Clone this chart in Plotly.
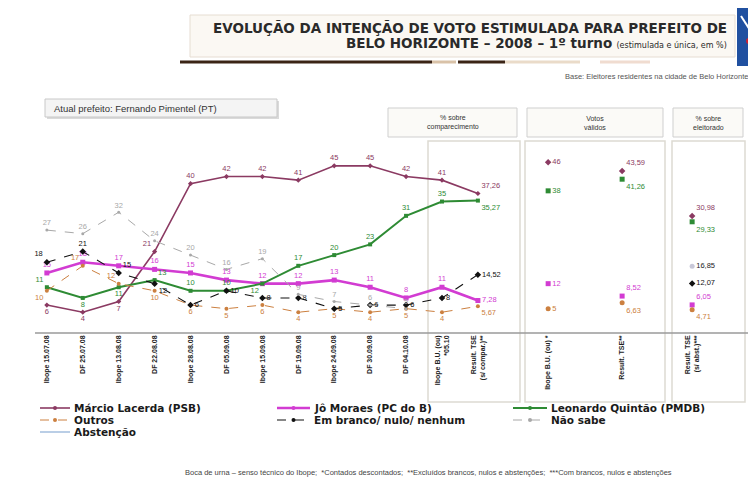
import plotly.graph_objects as go

# ---------------- data ----------------
main_cats = ["Ibope 15.07.08", "DF 25.07.08", "Ibope 13.08.08", "DF 22.08.08",
             "Ibope 28.08.08", "DF 05.09.08", "Ibope 15.09.08", "DF 19.09.08",
             "Ibope 24.09.08", "DF 30.09.08", "DF 04.10.08",
             "Ibope B.U. (ou)<br>*05.10", "Result. TSE<br>(s/ compar.)**"]
lacerda = [6, 4, 7, 21, 40, 42, 42, 41, 45, 45, 42, 41, 37.26]
jo = [15, 18, 17, 16, 15, 13, 12, 12, 13, 11, 8, 11, 7.28]
quintao = [11, 8, 11, 13, 10, 10, 12, 17, 20, 23, 31, 35, 35.27]
outros = [10, 17, 12, 10, 6, 5, 6, 4, 5, 4, 5, 4, 5.67]
branco = [18, 21, 15, 12, 6, 10, 8, 8, 5, 6, 6, 8, 14.52]
naosabe = [27, 26, 32, 24, 20, 16, 19, 9, 7, 6, 5, None, None]

vv_cats = ["Ibope B.U. (ou) *", "Result. TSE**"]
vv_lacerda = [46, 43.59]
vv_quintao = [38, 41.26]
vv_jo = [12, 8.52]
vv_outros = [5, 6.63]

el_cats = ["Result. TSE<br>(s/ abst.)***"]
el_lacerda = [30.98]
el_quintao = [29.33]
el_abst = [16.85]
el_branco = [12.07]
el_jo = [6.05]
el_outros = [4.71]

names = ["Márcio Lacerda (PSB)", "Jô Moraes (PC do B)", "Leonardo Quintão (PMDB)",
         "Outros", "Em branco/ nulo/ nenhum", "Não sabe", "Abstenção"]

# ---------------- styles ----------------
OFF = 8                      # page body margin in the browser
W, H = 756 - OFF, 483 - OFF
C_LAC = "#8B3A62"
C_JO = "#D23CD2"
C_QUI = "#2E8B34"
C_OUT = "#CC8040"
C_BRA = "#111111"
C_NS = "#A8A8A8"
C_ABS = "#A9C2E0"
C_ABS_MK = "#C8C8D8"


def px(x):
    return (x - OFF) / W


def py(y):
    return 1 - (y - OFF) / H


def fmt(v):
    if v is None:
        return ""
    return f"{v:g}".replace(".", ",")


def labels(vals):
    return [fmt(v) for v in vals]


fig = go.Figure()
LBL = dict(size=7.5, family="Liberation Sans")

main_series = [
    (lacerda, C_LAC, 1.6, "solid", "diamond", 4,
     ["bottom center"] * 3 + ["top left"] + ["top center"] * 8 + ["top right"]),
    (jo, C_JO, 2.6, "solid", "square", 5,
     ["top center"] * 12 + ["middle right"]),
    (quintao, C_QUI, 2.0, "solid", "square", 4,
     ["top left", "bottom center", "bottom center", "top right", "top center",
      "top center", "bottom left"] + ["top center"] * 5 + ["bottom right"]),
    (outros, C_OUT, 1.0, "dash", "circle", 4,
     ["bottom left", "top left", "top left"] + ["bottom center"] * 9 + ["bottom right"]),
    (branco, C_BRA, 1.1, "dash", "diamond", 5,
     ["top left", "top center", "top right", "bottom right"] + ["middle right"] * 8
     + ["middle right"]),
    (naosabe, C_NS, 1.0, "dash", "circle", 3,
     ["top center"] * 13),
]
for vals, col, w, dash, sym, ms, tpos in main_series:
    fig.add_trace(go.Scatter(
        x=main_cats, y=vals, mode="lines+markers+text",
        line=dict(color=col, width=w, dash=dash),
        marker=dict(color=col, size=ms, symbol=sym),
        text=labels(vals), textposition=tpos,
        textfont=dict(color=col, **LBL),
        cliponaxis=False, showlegend=False, xaxis="x", yaxis="y"))

for vals, col, sym, pos in [(vv_lacerda, C_LAC, "diamond", ["middle right", "top right"]),
                            (vv_quintao, C_QUI, "square", ["middle right", "bottom right"]),
                            (vv_jo, C_JO, "square", ["middle right", "top right"]),
                            (vv_outros, C_OUT, "circle", ["middle right", "bottom right"])]:
    fig.add_trace(go.Scatter(
        x=vv_cats, y=vals, mode="markers+text",
        marker=dict(color=col, size=5, symbol=sym),
        text=labels(vals), textposition=pos,
        textfont=dict(color=col, **LBL),
        cliponaxis=False, showlegend=False, xaxis="x2", yaxis="y"))

for vals, col, sym, pos in [(el_lacerda, C_LAC, "diamond", "top right"),
                            (el_quintao, C_QUI, "square", "bottom right"),
                            (el_abst, C_ABS_MK, "circle", "middle right"),
                            (el_branco, C_BRA, "diamond", "middle right"),
                            (el_jo, C_JO, "square", "top right"),
                            (el_outros, C_OUT, "circle", "bottom right")]:
    fig.add_trace(go.Scatter(
        x=el_cats, y=vals, mode="markers+text",
        marker=dict(color=col, size=5, symbol=sym),
        text=labels(vals), textposition=pos,
        textfont=dict(color=col if col != C_ABS_MK else "#222", **LBL),
        cliponaxis=False, showlegend=False, xaxis="x3", yaxis="y"))

# ---------------- axes ----------------
Y_TOP, Y_BOT = 145, 333
ZERO_PX, PX_PER = 326.5, 3.57
yr = [(ZERO_PX - Y_BOT) / PX_PER, (ZERO_PX - Y_TOP) / PX_PER]

tickfont = dict(size=7, family="Liberation Sans", color="#222", weight="bold")
common_x = dict(type="category", tickangle=-90, tickfont=tickfont, showgrid=False,
                zeroline=False, showline=False, ticks="", anchor="y")
fig.update_layout(
    xaxis=dict(domain=[px(35), px(521)], range=[-0.33, 13.2], **common_x),
    xaxis2=dict(domain=[px(523), px(668)], range=[-0.34, 1.62], **common_x),
    xaxis3=dict(domain=[px(670), px(746)], range=[-0.30, 0.73], **common_x),
    yaxis=dict(domain=[py(Y_BOT), py(Y_TOP)], range=yr, visible=False),
)

shapes = []
annotations = []

# title box
shapes.append(dict(type="rect", xref="paper", yref="paper", x0=px(190), x1=px(735),
                   y0=py(57), y1=py(15), fillcolor="#FBF8F3",
                   line=dict(color="#E6DDD2", width=1), layer="below"))
annotations.append(dict(xref="paper", yref="paper", x=px(729), y=py(28), xanchor="right",
                        yanchor="middle", showarrow=False,
                        text="<b>EVOLUÇÃO DA INTENÇÃO DE VOTO ESTIMULADA PARA PREFEITO DE</b>",
                        font=dict(size=13.5, family="DejaVu Sans", color="#2a2a2a")))
annotations.append(dict(xref="paper", yref="paper", x=px(729), y=py(43), xanchor="right",
                        yanchor="middle", showarrow=False,
                        text="<b>BELO HORIZONTE – 2008 – 1º turno</b> "
                             "<span style='font-size:8px'>(estimulada e única, em %)</span>",
                        font=dict(size=13.5, family="DejaVu Sans", color="#2a2a2a")))
# logo
shapes.append(dict(type="rect", xref="paper", yref="paper", x0=px(737), x1=px(756),
                   y0=py(66), y1=py(8), fillcolor="#2050A0", line=dict(width=0)))
shapes.append(dict(type="line", xref="paper", yref="paper", x0=px(741), x1=px(750),
                   y0=py(16), y1=py(30), line=dict(color="white", width=2)))
shapes.append(dict(type="circle", xref="paper", yref="paper", x0=px(746), x1=px(752),
                   y0=py(44), y1=py(38), fillcolor="#D02030", line=dict(width=0)))

# decorative bars
for x0, x1, col, w in [(180, 432, "#3B2416", 3), (432, 456, "#D9C2A8", 3),
                       (458, 505, "#3B2416", 3), (505, 580, "#EADBC9", 3),
                       (600, 650, "#F0DCD0", 3)]:
    shapes.append(dict(type="line", xref="paper", yref="paper", x0=px(x0), x1=px(x1),
                       y0=py(62), y1=py(62), line=dict(color=col, width=w)))
annotations.append(dict(xref="paper", yref="paper", x=px(750), y=py(76), xanchor="right",
                        yanchor="middle", showarrow=False,
                        text="Base: Eleitores residentes na cidade de Belo Horizonte",
                        font=dict(size=7.5, family="Liberation Sans", color="#555")))

# current mayor box
shapes.append(dict(type="rect", xref="paper", yref="paper", x0=px(47), x1=px(279),
                   y0=py(119), y1=py(101), fillcolor="#DADADA", line=dict(width=0),
                   layer="below"))
shapes.append(dict(type="rect", xref="paper", yref="paper", x0=px(45), x1=px(277),
                   y0=py(117), y1=py(99), fillcolor="#F4F4F4",
                   line=dict(color="#C8C8C8", width=1), layer="below"))
annotations.append(dict(xref="paper", yref="paper", x=px(52), y=py(108), xanchor="left",
                        yanchor="middle", showarrow=False,
                        text="Atual prefeito: Fernando Pimentel (PT)",
                        font=dict(size=9.5, family="Liberation Sans", color="#333")))

# panel frames and headers
for x0, x1 in [(428, 520), (525, 665), (672, 745)]:
    shapes.append(dict(type="rect", xref="paper", yref="paper", x0=px(x0), x1=px(x1),
                       y0=py(402), y1=py(141), fillcolor="rgba(0,0,0,0)",
                       line=dict(color="#DDDAD2", width=1.5), layer="below"))
for x0, x1, head in [(388, 517, "% sobre<br>comparecimento"),
                     (527, 663, "Votos<br>válidos"),
                     (673, 743, "% sobre<br>eleitorado")]:
    shapes.append(dict(type="rect", xref="paper", yref="paper", x0=px(x0), x1=px(x1),
                       y0=py(137), y1=py(108), fillcolor="#FBFAF7",
                       line=dict(color="#CFCFCF", width=1), layer="below"))
    annotations.append(dict(xref="paper", yref="paper", x=px((x0 + x1) / 2), y=py(122.5),
                            xanchor="center", yanchor="middle", showarrow=False,
                            text=head,
                            font=dict(size=7, family="Liberation Sans", color="#333")))

# baseline
shapes.append(dict(type="line", xref="paper", yref="paper", x0=px(35), x1=px(750),
                   y0=py(Y_BOT), y1=py(Y_BOT), line=dict(color="#9A9A9A", width=1.5)))

# manual legend
leg_rows = [408, 420, 432]
leg_cols = [(40, 70), (277, 310), (513, 547)]
leg_items = [
    (0, 0, names[0], C_LAC, 1.6, "solid"), (1, 0, names[1], C_JO, 2.6, "solid"),
    (2, 0, names[2], C_QUI, 2.0, "solid"), (0, 1, names[3], C_OUT, 1.0, "dash"),
    (1, 1, names[4], C_BRA, 1.1, "dash"), (2, 1, names[5], C_NS, 1.0, "dash"),
    (0, 2, names[6], C_ABS, 1.6, "solid"),
]
for col_i, row_i, name, col, w, dash in leg_items:
    lx0, lx1 = leg_cols[col_i]
    yy = leg_rows[row_i]
    shapes.append(dict(type="line", xref="paper", yref="paper", x0=px(lx0), x1=px(lx1),
                       y0=py(yy), y1=py(yy), line=dict(color=col, width=w, dash=dash)))
    if name != names[6]:
        cx = (lx0 + lx1) / 2
        shapes.append(dict(type="circle", xref="paper", yref="paper", x0=px(cx - 2),
                           x1=px(cx + 2), y0=py(yy + 2), y1=py(yy - 2), fillcolor=col,
                           line=dict(width=0)))
    annotations.append(dict(xref="paper", yref="paper", x=px(lx1 + 3), y=py(yy),
                            xanchor="left", yanchor="middle", showarrow=False,
                            text=f"<b>{name}</b>", borderpad=0,
                            font=dict(size=10.5, family="DejaVu Sans", color="#1a1a1a")))

# footer
annotations.append(dict(xref="paper", yref="paper", x=px(428), y=py(472), xanchor="center",
                        yanchor="middle", showarrow=False,
                        text="Boca de urna – senso técnico do Ibope;  *Contados descontados;  "
                             "**Excluídos brancos, nulos e abstenções;  ***Com brancos, nulos e abstenções",
                        font=dict(size=7.5, family="Liberation Sans", color="#444")))

fig.update_layout(
    width=W, height=H, margin=dict(l=0, r=0, t=0, b=0),
    paper_bgcolor="white", plot_bgcolor="rgba(0,0,0,0)",
    shapes=shapes, annotations=annotations, showlegend=False,
)

fig.write_html("out.html")
